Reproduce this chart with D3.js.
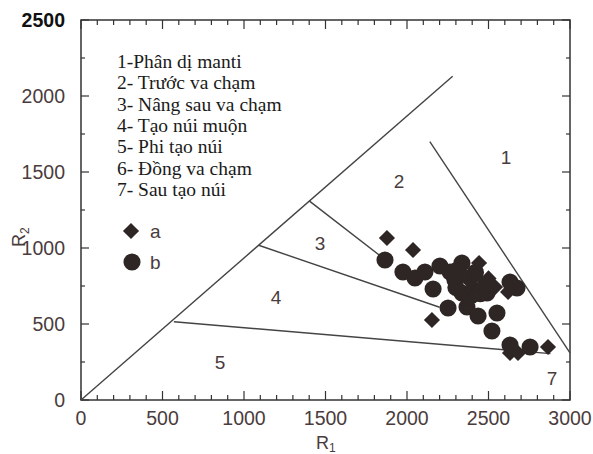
<!DOCTYPE html>
<html>
<head>
<meta charset="utf-8">
<script src="https://cdn.jsdelivr.net/npm/d3@7"></script>
<style>
body { margin:0; background:#fff; }
svg { display:block; }
</style>
</head>
<body>
<svg class="chart"></svg>
<script>
// ticks
var xTicks = [0, 500, 1000, 1500, 2000, 2500, 3000];
var yTicks = [0, 500, 1000, 1500, 2000, 2500];

// legend entries
var zoneNames = ["1-Phân dị manti", "2- Trước va chạm", "3- Nâng sau va chạm",
  "4- Tạo núi muộn", "5- Phi tạo núi", "6- Đồng va chạm", "7- Sau tạo núi"];

// field boundaries (R1, R2)
var boundaries = [
  [[0, 0], [2280, 2130]],
  [[2140, 1700], [3000, 310]],
  [[1400, 1310], [1870, 920]],
  [[1090, 1018], [2200, 610]],
  [[570, 515], [2880, 305]]
];

var zoneLabels = ["1", "2", "3", "4", "5", "7"];
var zoneR1 = [2607, 1951, 1466, 1196, 853, 2890];
var zoneR2 = [1599, 1441, 1033, 678, 250, 145];

// samples a (diamonds)
var aR1 = [1877, 2037, 2442, 2153, 2620, 2540, 2865, 2632, 2681, 2300, 2420, 2500, 2350];
var aR2 = [1066, 987, 901, 526, 711, 743, 349, 309, 309, 800, 690, 800, 820];

// samples b (circles)
var bR1 = [1865, 1975, 2049, 2110, 2202, 2337, 2160, 2252, 2368, 2436, 2552, 2521,
  2405, 2491, 2337, 2294, 2387, 2632, 2675, 2632, 2755, 2264,
  2300, 2420, 2480, 2380, 2450, 2300];
var bR2 = [921, 842, 803, 842, 882, 901, 730, 605, 612, 553, 572, 454,
  724, 704, 704, 789, 803, 776, 737, 362, 349, 842,
  850, 840, 760, 680, 700, 740];

var W = 593, H = 454;
var sans = "Liberation Sans, Arial, sans-serif";
var labelInk = "#4a3c3c";

var chart = d3.select(".chart").attr("width", W).attr("height", H);
chart.append("rect").attr("width", W).attr("height", H).attr("fill", "#fff");

var x = d3.scaleLinear().domain([0, 3000]).range([81, 570]);
var y = d3.scaleLinear().domain([0, 2500]).range([400, 20]);

// frame
chart.append("rect")
  .attr("x", x(0)).attr("y", y(2500))
  .attr("width", x(3000) - x(0)).attr("height", y(0) - y(2500))
  .attr("fill", "none").attr("stroke", "#333").attr("stroke-width", 1.5);

// ticks, all pointing inward
var minorX = d3.range(0, 3001, 100);
var minorY = d3.range(0, 2501, 250);
function tlen(v, step) { return v % step === 0 ? 9 : 5; }

chart.selectAll(".tb").data(minorX).enter().append("line")
  .attr("x1", function(d) { return x(d); }).attr("x2", function(d) { return x(d); })
  .attr("y1", y(0)).attr("y2", function(d) { return y(0) - tlen(d, 500); })
  .attr("stroke", "#333").attr("stroke-width", 1.2);
chart.selectAll(".tt").data(minorX).enter().append("line")
  .attr("x1", function(d) { return x(d); }).attr("x2", function(d) { return x(d); })
  .attr("y1", y(2500)).attr("y2", function(d) { return y(2500) + tlen(d, 500); })
  .attr("stroke", "#333").attr("stroke-width", 1.2);
chart.selectAll(".tl").data(minorY).enter().append("line")
  .attr("y1", function(d) { return y(d); }).attr("y2", function(d) { return y(d); })
  .attr("x1", x(0)).attr("x2", function(d) { return x(0) + tlen(d, 500) - 1; })
  .attr("stroke", "#333").attr("stroke-width", 1.2);
chart.selectAll(".tr").data(minorY).enter().append("line")
  .attr("y1", function(d) { return y(d); }).attr("y2", function(d) { return y(d); })
  .attr("x1", x(3000)).attr("x2", function(d) { return x(3000) - tlen(d, 500) + 1; })
  .attr("stroke", "#333").attr("stroke-width", 1.2);

// tick labels
chart.selectAll(".xl").data(xTicks).enter().append("text")
  .attr("x", function(d) { return x(d); }).attr("y", 425)
  .attr("text-anchor", "middle")
  .style("font-family", sans).style("font-size", "19.5px")
  .style("fill", labelInk)
  .text(function(d) { return d; });
chart.selectAll(".yl").data(yTicks).enter().append("text")
  .attr("x", 65).attr("y", function(d) { return y(d) + 7; })
  .attr("text-anchor", "end")
  .style("font-family", sans).style("font-size", "19.5px")
  .style("font-weight", function(d) { return d === 2500 ? "bold" : "normal"; })
  .style("fill", function(d) { return d === 2500 ? "#111" : labelInk; })
  .text(function(d) { return d; });

// axis titles
var xt = chart.append("text").attr("x", 316).attr("y", 449)
  .style("font-family", sans).style("font-size", "18px")
  .style("fill", labelInk).text("R");
xt.append("tspan").attr("dy", 3).style("font-size", "12px").text("1");
var yt = chart.append("text").attr("transform", "translate(25,247) rotate(-90)")
  .style("font-family", sans).style("font-size", "18px")
  .style("fill", labelInk).text("R");
yt.append("tspan").attr("dy", 4).style("font-size", "12px").text("2");

// boundaries
var line = d3.line().x(function(d) { return x(d[0]); }).y(function(d) { return y(d[1]); });
chart.selectAll(".bd").data(boundaries).enter().append("path")
  .attr("d", line).attr("fill", "none").attr("stroke", "#444").attr("stroke-width", 1.4);

// zone numbers
chart.selectAll(".zn").data(zoneLabels).enter().append("text")
  .attr("x", function(d, i) { return x(zoneR1[i]); })
  .attr("y", function(d, i) { return y(zoneR2[i]) + 7; })
  .attr("text-anchor", "middle")
  .style("font-family", sans).style("font-size", "19px")
  .style("fill", labelInk)
  .text(function(d) { return d; });

// legend text
chart.selectAll(".lg").data(zoneNames).enter().append("text")
  .attr("x", 117).attr("y", function(d, i) { return 68 + i * 21.3; })
  .style("font-family", "Liberation Serif, Times New Roman, serif").style("font-size", "19.5px")
  .style("fill", "#1a1a1a")
  .text(function(d) { return d; });

var diamond = d3.symbol().type(d3.symbolSquare).size(130);
var circle = d3.symbol().type(d3.symbolCircle).size(230);
var mark = "#2e2624";

// legend markers
chart.append("path").attr("d", diamond).attr("fill", mark)
  .attr("transform", "translate(131,231) rotate(45)");
chart.append("text").attr("x", 150).attr("y", 238).text("a")
  .style("font-family", sans).style("font-size", "19px").style("fill", labelInk);
chart.append("path").attr("d", circle).attr("fill", mark)
  .attr("transform", "translate(132,262)");
chart.append("text").attr("x", 150).attr("y", 269).text("b")
  .style("font-family", sans).style("font-size", "19px").style("fill", labelInk);

// samples
chart.selectAll(".pb").data(bR1).enter().append("path")
  .attr("d", circle).attr("fill", mark)
  .attr("transform", function(d, i) { return "translate(" + x(d) + "," + y(bR2[i]) + ")"; });
chart.selectAll(".pa").data(aR1).enter().append("path")
  .attr("d", diamond).attr("fill", mark)
  .attr("transform", function(d, i) { return "translate(" + x(d) + "," + y(aR2[i]) + ") rotate(45)"; });
</script>
</body>
</html>
